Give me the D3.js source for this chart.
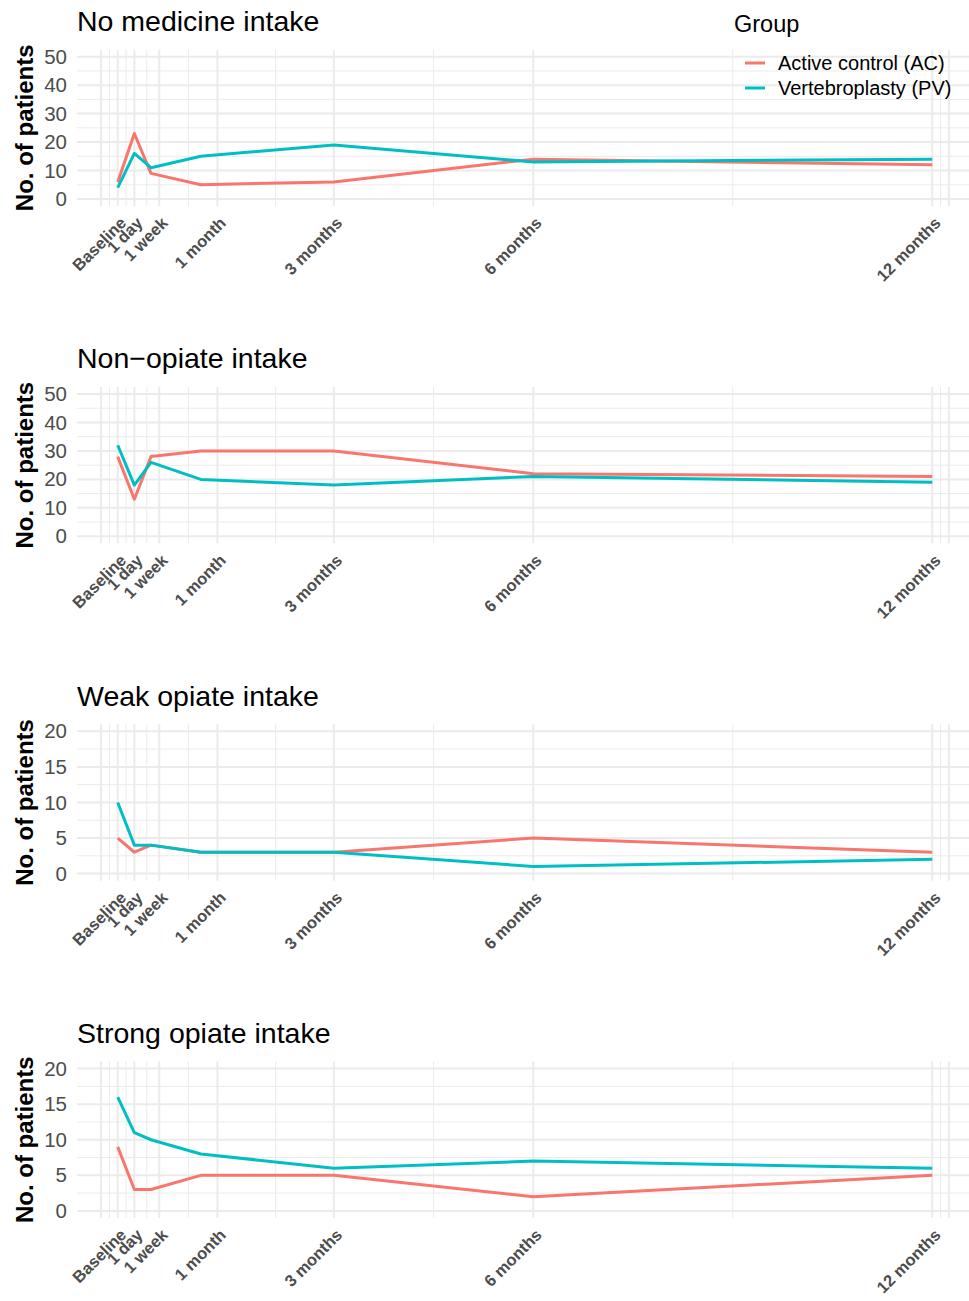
<!DOCTYPE html>
<html>
<head>
<meta charset="utf-8">
<script src="https://cdn.jsdelivr.net/npm/d3@7"></script>
<style>
  body { margin: 0; background: #fff; }
  text { font-family: "Liberation Sans", Arial, Helvetica, sans-serif; }
</style>
</head>
<body>
<div id="chart"></div>
<script>
// time points (x in months)
var timeLabels = ["Baseline", "1 day", "1 week", "1 month", "3 months", "6 months", "12 months"];
var timeValues = [-0.25, 0, 0.25, 1, 3, 6, 12];
var labelBreaks = [-0.25, 0, 0.375, 1.25, 3, 6, 12];
var majorBreaks = [-0.5, -0.25, 0, 0.375, 1.25, 3, 6, 12, 12.25];
var minorBreaks = [-0.375, -0.125, 0.1875, 0.8125, 2.125, 4.5, 9, 12.125];

var panelTitles = ["No medicine intake", "Non\u2212opiate intake", "Weak opiate intake", "Strong opiate intake"];
var groups = ["Active control (AC)", "Vertebroplasty (PV)"];
var groupColors = ["#F8766D", "#00BFC4"];

var noMedicineAC = [6, 23, 9, 5, 6, 14, 12];
var noMedicinePV = [4, 16, 11, 15, 19, 13, 14];
var nonOpiateAC = [28, 13, 28, 30, 30, 22, 21];
var nonOpiatePV = [32, 18, 26, 20, 18, 21, 19];
var weakOpiateAC = [5, 3, 4, 3, 3, 5, 3];
var weakOpiatePV = [10, 4, 4, 3, 3, 1, 2];
var strongOpiateAC = [9, 3, 3, 5, 5, 2, 5];
var strongOpiatePV = [16, 11, 10, 8, 6, 7, 6];

var yMax = [50, 50, 20, 20];
var yStep = [10, 10, 5, 5];

var panels = [
  [noMedicineAC, noMedicinePV],
  [nonOpiateAC, nonOpiatePV],
  [weakOpiateAC, weakOpiatePV],
  [strongOpiateAC, strongOpiatePV]
];

var width = 969,
    height = 1301;

var left = 77, plotW = 896, plotH = 156.5, top0 = 49.6, panelGap = 337.3;

var svg = d3.select("#chart").append("svg")
    .attr("width", width)
    .attr("height", height);

var x = d3.scaleLinear()
    .domain([-0.8625, 12.6125])
    .range([left, left + plotW]);

panels.forEach(function(series, i) {
  var g = svg.append("g")
      .attr("transform", "translate(0," + (top0 + i * panelGap) + ")");

  var y = d3.scaleLinear()
      .domain([-0.05 * yMax[i], 1.05 * yMax[i]])
      .range([plotH, 0]);

  var yMajor = d3.range(0, yMax[i] + 0.01, yStep[i]);
  var yMinor = d3.range(yStep[i] / 2, yMax[i], yStep[i]);

  // minor grid
  g.selectAll(".hminor").data(yMinor).enter().append("line")
      .attr("x1", left).attr("x2", left + plotW)
      .attr("y1", function(d) { return y(d); })
      .attr("y2", function(d) { return y(d); })
      .attr("stroke", "#ebebeb").attr("stroke-width", 1);
  g.selectAll(".vminor").data(minorBreaks).enter().append("line")
      .attr("x1", function(d) { return x(d); })
      .attr("x2", function(d) { return x(d); })
      .attr("y1", 0).attr("y2", plotH)
      .attr("stroke", "#ebebeb").attr("stroke-width", 1);
  // major grid
  g.selectAll(".hmajor").data(yMajor).enter().append("line")
      .attr("x1", left).attr("x2", left + plotW)
      .attr("y1", function(d) { return y(d); })
      .attr("y2", function(d) { return y(d); })
      .attr("stroke", "#ebebeb").attr("stroke-width", 2);
  g.selectAll(".vmajor").data(majorBreaks).enter().append("line")
      .attr("x1", function(d) { return x(d); })
      .attr("x2", function(d) { return x(d); })
      .attr("y1", 0).attr("y2", plotH)
      .attr("stroke", "#ebebeb").attr("stroke-width", 2);

  // y axis
  var yAxis = g.append("g")
      .attr("transform", "translate(" + left + ",0)")
      .call(d3.axisLeft(y).tickValues(yMajor).tickSize(0).tickPadding(10));
  yAxis.select(".domain").remove();
  yAxis.selectAll("text")
      .attr("fill", "#4d4d4d")
      .style("font-size", "20.5px");

  // x axis
  var xAxis = g.append("g")
      .attr("transform", "translate(0," + plotH + ")")
      .call(d3.axisBottom(x).tickValues(labelBreaks).tickSize(0)
        .tickFormat(function(d, j) { return timeLabels[j]; }));
  xAxis.select(".domain").remove();
  xAxis.selectAll("text")
      .attr("x", 9).attr("y", 18).attr("dy", 0)
      .attr("text-anchor", "end")
      .attr("transform", "rotate(-45,9,18)")
      .attr("fill", "#4d4d4d")
      .style("font-size", "16.5px")
      .style("font-weight", "bold");

  // lines
  var line = d3.line()
      .x(function(d, j) { return x(timeValues[j]); })
      .y(function(d) { return y(d); });

  series.forEach(function(s, k) {
    g.append("path")
        .datum(s)
        .attr("d", line)
        .attr("fill", "none")
        .attr("stroke", groupColors[k])
        .attr("stroke-width", 3)
        .attr("stroke-linejoin", "round");
  });

  // titles
  g.append("text")
      .attr("x", 77)
      .attr("y", 31 - top0)
      .attr("fill", "#000")
      .style("font-size", "28.5px")
      .text(panelTitles[i]);

  g.append("text")
      .attr("transform", "translate(33," + (plotH / 2) + ") rotate(-90)")
      .attr("text-anchor", "middle")
      .attr("fill", "#000")
      .style("font-size", "24px")
      .style("font-weight", "bold")
      .text("No. of patients");
});

// legend
var legend = svg.append("g").attr("class", "legend");

legend.append("text")
    .attr("x", 734).attr("y", 32)
    .attr("fill", "#000")
    .style("font-size", "23.5px")
    .text("Group");

groups.forEach(function(name, k) {
  legend.append("line")
      .attr("x1", 745).attr("x2", 765)
      .attr("y1", 63 + k * 25).attr("y2", 63 + k * 25)
      .attr("stroke", groupColors[k])
      .attr("stroke-width", 3);
  legend.append("text")
      .attr("x", 778).attr("y", 69.5 + k * 25)
      .attr("fill", "#000")
      .style("font-size", "20px")
      .text(name);
});
</script>
</body>
</html>
